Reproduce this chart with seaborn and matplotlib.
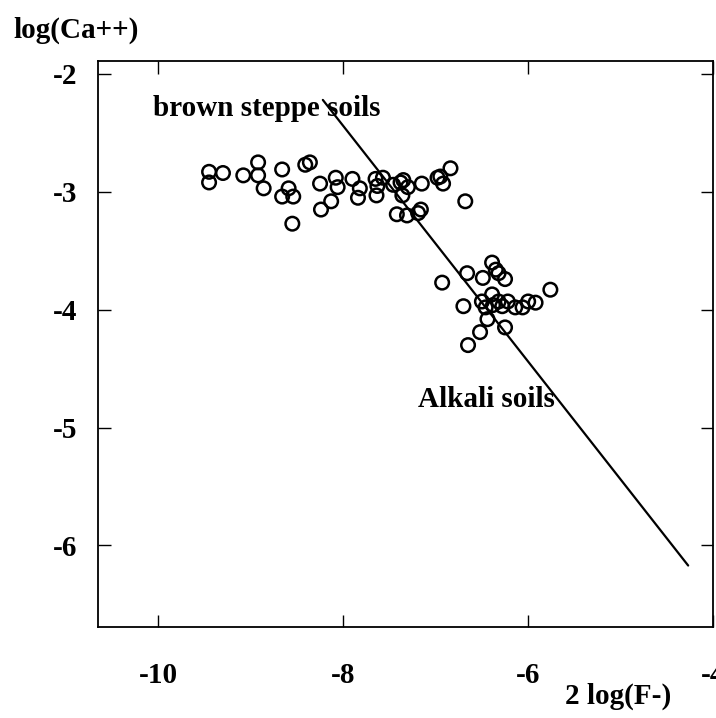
import matplotlib
matplotlib.use("Agg")
import matplotlib.pyplot as plt
import numpy as np
import seaborn as sns

# Brown steppe soils: 2 log(F-) and log(Ca++)
steppe_x = [-9.45, -9.45, -9.30, -9.08, -8.92, -8.92, -8.86, -8.66, -8.66, -8.59,
            -8.54, -8.55, -8.41, -8.36, -8.25, -8.24, -8.13, -8.08, -8.06, -7.90,
            -7.84, -7.82, -7.65, -7.63, -7.64, -7.57, -7.46, -7.38, -7.35, -7.36,
            -7.30, -7.15, -7.42, -7.31, -7.19, -7.16, -6.95, -6.92, -6.84, -6.68,
            -6.98]
steppe_y = [-2.83, -2.92, -2.84, -2.86, -2.75, -2.86, -2.97, -2.81, -3.04, -2.97,
            -3.04, -3.27, -2.77, -2.75, -2.93, -3.15, -3.08, -2.88, -2.96, -2.89,
            -3.05, -2.97, -2.89, -2.95, -3.03, -2.88, -2.94, -2.92, -2.90, -3.03,
            -2.96, -2.93, -3.19, -3.20, -3.18, -3.15, -2.87, -2.93, -2.80, -3.08,
            -2.88]

# Alkali soils
alkali_x = [-6.93, -6.66, -6.49, -6.39, -6.35, -6.32, -6.25, -6.70, -6.50, -6.39,
            -6.38, -6.32, -6.28, -6.22, -6.14, -6.06, -6.00, -5.92, -5.76, -6.44,
            -6.52, -6.65, -6.25, -6.46]
alkali_y = [-3.77, -3.69, -3.73, -3.60, -3.66, -3.69, -3.74, -3.97, -3.93, -3.87,
            -3.96, -3.93, -3.97, -3.93, -3.98, -3.98, -3.93, -3.94, -3.83, -4.08,
            -4.19, -4.30, -4.15, -3.98]

# fluorite equilibrium line (slope -1)
line_x = [-8.22, -4.27]
line_y = [-2.22, -6.17]

sns.set_theme(style="ticks")
plt.rcParams['font.family'] = ['Liberation Serif', 'DejaVu Serif']
plt.rcParams['font.weight'] = 'bold'
plt.rcParams['text.color'] = 'black'
plt.rcParams['xtick.color'] = 'black'
plt.rcParams['ytick.color'] = 'black'

fig = plt.figure(figsize=(7.16, 7.18), dpi=100)
ax = fig.add_axes([0.137, 0.127, 0.859, 0.788])

all_x = np.array(steppe_x + alkali_x)
all_y = np.array(steppe_y + alkali_y)
sns.scatterplot(x=all_x, y=all_y, ax=ax, marker='o', s=95,
                facecolor='none', edgecolor='black', linewidth=1.8)
sns.lineplot(x=line_x, y=line_y, ax=ax, color='black', linewidth=1.6)

ax.text(-10.06, -2.29, "brown steppe soils", fontsize=21, fontweight='bold',
        va='center', ha='left')
ax.text(-7.19, -4.76, "Alkali soils", fontsize=21, fontweight='bold',
        va='center', ha='left')

ax.set_xlim(-10.65, -4.0)
ax.set_ylim(-6.69, -1.89)
ax.set_xticks([-10, -8, -6, -4])
ax.set_yticks([-2, -3, -4, -5, -6])
ax.set_xticklabels(["-10", "-8", "-6", "-4"])
ax.set_yticklabels(["-2", "-3", "-4", "-5", "-6"])
ax.tick_params(direction='in', length=9, width=1, labelsize=21,
               top=True, right=True)
ax.tick_params(axis='x', pad=25)
ax.tick_params(axis='y', pad=15)
for lab in ax.get_xticklabels() + ax.get_yticklabels():
    lab.set_fontweight('bold')
for sp in ax.spines.values():
    sp.set_linewidth(1.3)
    sp.set_color('black')

fig.text(0.018, 0.958, "log(Ca++)", fontsize=21, fontweight='bold',
         va='center', ha='left')
fig.text(0.937, 0.030, "2 log(F-)", fontsize=21, fontweight='bold',
         va='center', ha='right')

fig.savefig("out.png", dpi=100)
